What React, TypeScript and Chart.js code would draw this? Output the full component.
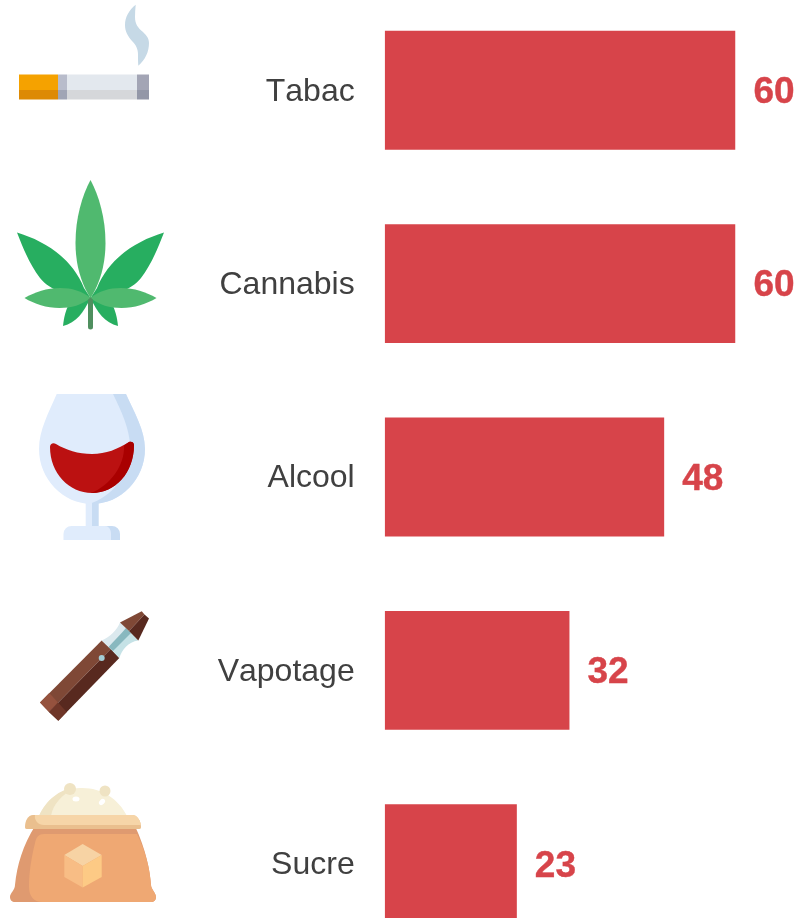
import React, { useEffect, useRef } from "react";
import { Chart, registerables } from "chart.js";

Chart.register(...registerables);

const categories = ["Tabac", "Cannabis", "Alcool", "Vapotage", "Sucre"];
const values = [60, 60, 47.8, 31.6, 22.6];
const valueLabels = ["60", "60", "48", "32", "23"];
const barColor = "#d7444a";
const labelColor = "#404040";

const valueLabelPlugin = {
  id: "valueLabels",
  beforeDraw(chart: any) {
    chart.ctx.fontKerning = "none";
  },
  afterDatasetsDraw(chart: any) {
    const { ctx } = chart;
    const meta = chart.getDatasetMeta(0);
    ctx.save();
    ctx.fillStyle = barColor;
    ctx.strokeStyle = barColor;
    ctx.lineWidth = 0.4;
    ctx.font = "bold 37px 'Liberation Sans'";
    ctx.textAlign = "left";
    ctx.textBaseline = "middle";
    meta.data.forEach((el: any, i: number) => {
      ctx.fillText(valueLabels[i], el.x + 18, el.y + 2.5);
      ctx.strokeText(valueLabels[i], el.x + 18, el.y + 2.5);
    });
    ctx.restore();
  },
};

function Icons() {
  return (
    <svg
      width={798}
      height={918}
      viewBox="0 0 798 918"
      style={{ position: "absolute", left: 0, top: 0, pointerEvents: "none" }}
    >
      {/* cigarette */}
      <path d="M135.700 4.700C129 10 125 17 125 25c0 7 3 11 7 16 4 4 6 8 6 14 0 4 0 7 .3 10.700C145 60 149 52 149 43c0-5-3-8-6-11-5-4-8-8-8-15 0-4 .3-8 .7-12.300z" fill="#c6d9e6" />
      <rect x="19" y="74.500" width="39" height="15.500" fill="#f5a200" />
      <rect x="19" y="90" width="39" height="9.500" fill="#dd8a05" />
      <rect x="58" y="74.500" width="9" height="15.500" fill="#b8bccb" />
      <rect x="58" y="90" width="9" height="9.500" fill="#a0a5b5" />
      <rect x="67" y="74.500" width="70" height="15.500" fill="#e3e8ee" />
      <rect x="67" y="90" width="70" height="9.500" fill="#d5d7da" />
      <rect x="137" y="74.500" width="12" height="15.500" fill="#a3a5b5" />
      <rect x="137" y="90" width="12" height="9.500" fill="#9397a7" />
      {/* cannabis */}
      <path d="M17 232.500C45 241 72 258 84 288L90.500 298C70 296 50 291 40 278 30 265 23 248 17 232.500z" fill="#27ae60" />
      <path d="M164 232.500C136 241 109 258 97 288L90.500 298C111 296 131 291 141 278 151 265 158 248 164 232.500z" fill="#27ae60" />
      <path d="M90.500 298C84 312 76 323 63 326 64 316 66 310 69 304z" fill="#27ae60" />
      <path d="M90.500 298C97 312 105 323 118 326 117 316 115 310 112 304z" fill="#27ae60" />
      <path d="M24.500 298C35 292 47 288 60 288c12 0 22 3 30.500 10-9 7-19 10-31 10-13 0-25-4-35-10z" fill="#50b96f" />
      <path d="M156.500 298C146 292 134 288 121 288c-12 0-22 3-30.500 10 9 7 19 10 31 10 13 0 25-4 35-10z" fill="#50b96f" />
      <path d="M90.500 180C82 196 75.500 218 75.500 243c0 24 7 43 15 55 8-12 15-31 15-55 0-25-6.500-47-15-63z" fill="#50b96f" />
      <path d="M88 300l2.500-3 2.500 3v27a2.500 2.500 0 0 1-5 0z" fill="#4f8f5f" />
      {/* wine glass */}
      <path d="M56.700 394C49 412 39 430 39 449c0 30 24 55 53 55s53-25 53-55c0-19-11-37-19-55z" fill="#e0ecfc" />
      <path d="M113 394c8 16 17 36 17 52 0 28-18 52-42 58h4c29 0 53-25 53-55 0-19-11-37-19-55z" fill="#c8dcf3" />
      <path d="M50 447c0-3 3-5 6-3 10 6 22 10 36 10s26-5 37-12c2-1 5 0 5 3 0 28-19 48-42 48-23 0-42-20-42-46z" fill="#bb1111" />
      <path d="M124 445.500c1 20-14 40-33 47.500h1c23 0 42-20 42-48 0-3-3-4-5-3z" fill="#a90000" />
      <rect x="85.700" y="503" width="6.300" height="24" fill="#e0ecfc" />
      <rect x="92" y="503" width="6.700" height="24" fill="#c8dcf3" />
      <path d="M63.500 540v-6a8 8 0 0 1 8-8h34c4 0 6 4 6 8v6z" fill="#e0ecfc" />
      <path d="M105 526h7a8 8 0 0 1 8 8v6h-9v-6c0-4-2-8-6-8z" fill="#c8dcf3" />
      {/* vape */}
      <path d="M40 702.400L101.700 640.500 110.700 649 49 712z" fill="#7f4836" />
      <path d="M49 712L110.700 649 119.300 658 58.300 720.700z" fill="#58291f" />
      <path d="M40 702.400L49.300 693 58 702.500 49 712z" fill="#95523e" />
      <path d="M49 712L58 702.500 66.700 712 58.300 720.700z" fill="#6f3628" />
      <circle cx="101.700" cy="658" r="3" fill="#a3cdd6" />
      <path d="M101.700 640.500C110 637 117 630 120 622.600L129 631 110.700 649z" fill="#dbe9ee" />
      <path d="M110.700 649L129 631 138.300 640.500C128 642 122 650 119.300 658z" fill="#c5e2e6" />
      <path d="M108.500 647C115 640 120 635 126 628L131 633C125 639 119 645 113 651z" fill="#88b8bf" />
      <path d="M120 622.600L141.700 611.200 144.500 614.500 129 631z" fill="#7f4836" />
      <path d="M129 631L144.500 614.500 149 618.500 138.300 640.500z" fill="#58291f" />
      {/* sugar bag */}
      <path d="M39 816C46 800 62 789 80 788c20-1 38 10 47 28z" fill="#f7f0d8" />
      <path d="M39 816C46 800 60 789 74 788 62 795 53 804 51 816z" fill="#efe3c3" />
      <circle cx="70" cy="789" r="6" fill="#efe3c3" />
      <circle cx="105" cy="791" r="5.500" fill="#efe3c3" />
      <ellipse cx="76" cy="799" rx="3.500" ry="2.500" fill="#ffffff" />
      <ellipse cx="102" cy="802" rx="3.500" ry="2.500" fill="#ffffff" transform="rotate(-45 102 802)" />
      <path d="M35 826H135C146 850 150 870 151 885c0 4 5 8 5 12 0 3-2 5-5 5H15c-3 0-5-2-5-5 0-4 5-7 5-12 2-20 8-40 20-59z" fill="#df9a70" />
      <path d="M44 834h93c9 18 13 36 14 51 0 4 5 8 5 12 0 3-2 5-5 5H42c-8 0-13-6-13-15 0-16 3-32 6-44 1-6 4-9 9-9z" fill="#efa873" />
      <path d="M33 815h99c5 0 9 6 9 12 0 2-1 2-3 2H28c-2 0-3 0-3-2 0-6 3-12 8-12z" fill="#eabf8e" />
      <path d="M35 815h98c4 0 7 5 8 10H44c-6 0-10-5-9-10z" fill="#f6d5a8" />
      <path d="M82.700 844L101.700 855 82.700 866 64.300 855z" fill="#f7d3a4" />
      <path d="M64.300 855L82.700 866V887.600L64.300 877z" fill="#f8bd85" />
      <path d="M101.700 855L82.700 866V887.600L101.700 877z" fill="#fdca85" />
    </svg>
  );
}

export default function App() {
  const ref = useRef<HTMLCanvasElement | null>(null);

  useEffect(() => {
    document.body.style.margin = "0";
    const chart = new Chart(ref.current as HTMLCanvasElement, {
      type: "bar",
      data: {
        labels: categories,
        datasets: [
          {
            data: values,
            backgroundColor: barColor,
            borderWidth: 0,
            categoryPercentage: 1,
            barPercentage: 0.615,
          },
        ],
      },
      options: {
        indexAxis: "y",
        responsive: false,
        animation: false,
        layout: { autoPadding: false, padding: { left: 0, right: 62.5, top: 0.5, bottom: 0.5 } },
        plugins: { legend: { display: false }, tooltip: { enabled: false } },
        scales: {
          x: { display: false, min: 0, max: 60 },
          y: {
            afterFit: (s: any) => {
              s.width = 384.7;
              s.paddingTop = 0;
              s.paddingBottom = 0;
            },
            grid: { display: false },
            border: { display: false },
            ticks: {
              color: labelColor,
              padding: 22,
              labelOffset: 1.5,
              font: { family: "'Liberation Sans'", size: 32 },
            },
          },
        },
      },
      plugins: [valueLabelPlugin],
    } as any);
    return () => chart.destroy();
  }, []);

  return (
    <div style={{ position: "relative", width: 798, height: 918, overflow: "hidden" }}>
      <canvas ref={ref} width={798} height={968} style={{ position: "absolute", left: 0, top: -7 }} />
      <Icons />
    </div>
  );
}
